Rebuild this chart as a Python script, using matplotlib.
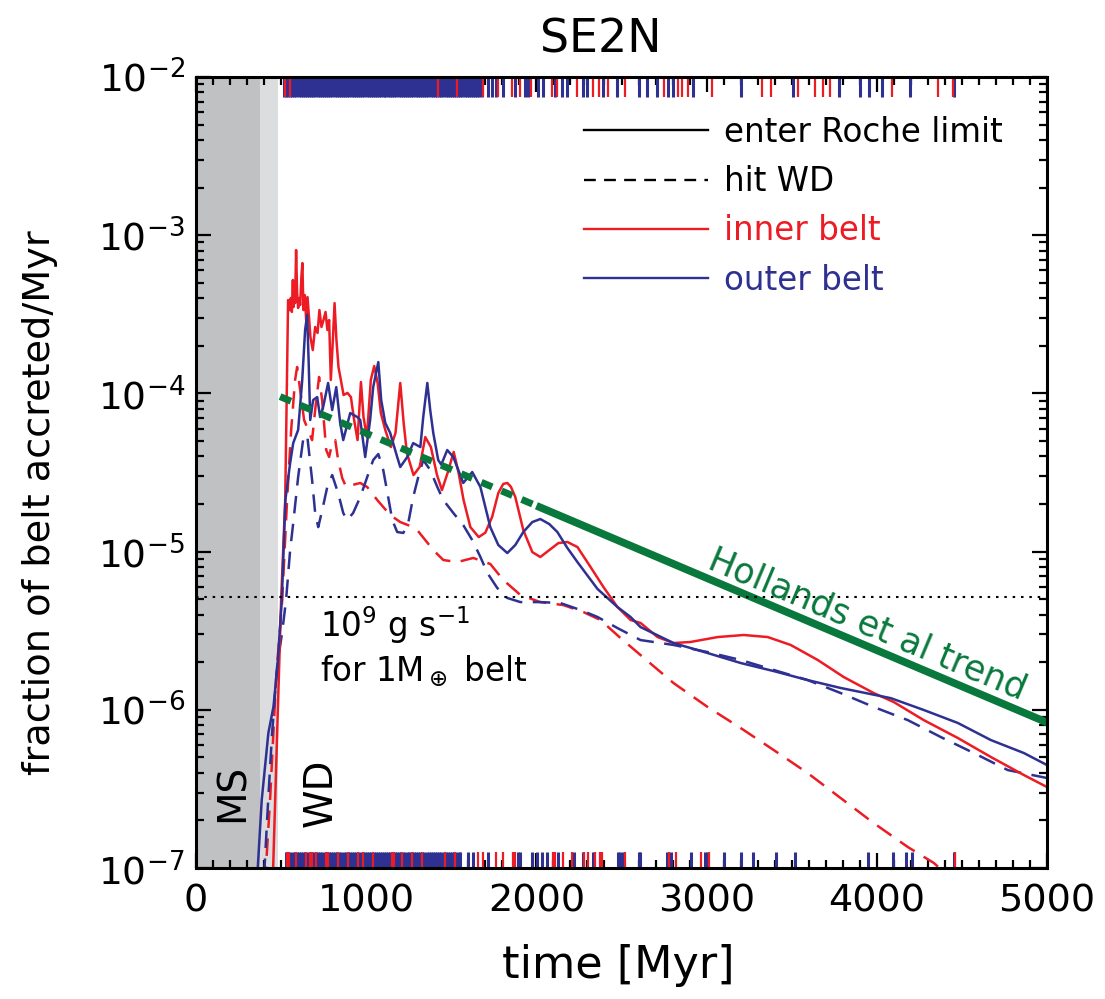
import matplotlib
matplotlib.use("Agg")
import matplotlib.pyplot as plt
from matplotlib.lines import Line2D
from matplotlib.ticker import MultipleLocator, LogLocator, FuncFormatter, NullFormatter
import numpy as np

plt.rcParams["font.family"] = ["DejaVu Sans"]
plt.rcParams["mathtext.fontset"] = "dejavusans"
plt.rcParams["mathtext.default"] = "regular"

RED = "#ed1c24"
BLUE = "#2e3192"
GREEN = "#08783c"

# stellar phases (Myr): MS up to first edge, then giant branch, then WD
phase_edges = [0, 376, 482]

# inner belt, enter Roche limit (time in Myr, log10 fraction/Myr)
inner_roche_t = [449, 500, 524, 541,
                 549, 557, 563, 569, 573, 576, 582, 588, 594, 600,
                 606, 612, 619, 625, 631, 639, 647, 655, 665, 672,
                 686, 700, 714, 725, 737, 749, 761, 772, 782, 792,
                 804, 814, 825, 837, 851, 867, 890, 910, 929, 949,
                 969, 984, 1004, 1027, 1047, 1067, 1086, 1112, 1145, 1172,
                 1200, 1220, 1239, 1278, 1314, 1347, 1380, 1416, 1445, 1478,
                 1514, 1543, 1572, 1612, 1661, 1700, 1740, 1776, 1805, 1829,
                 1850, 1876, 1923, 1976, 2023, 2076, 2129, 2182, 2241, 2318,
                 2394, 2476, 2553, 2612, 2712, 2806, 2906, 3065, 3218, 3359,
                 3494, 3653, 3806, 3982, 4100, 4276, 4476, 4670, 4864, 5000]
inner_roche_log10 = [-7.15, -5.306, -4.674, -3.410,
                     -3.473, -3.397, -3.485, -3.283, -3.454, -3.346, -3.429, -3.094, -3.365, -3.460,
                     -3.397, -3.441, -3.264, -3.176, -3.473, -3.378, -3.536, -3.391, -3.536, -3.643,
                     -3.726, -3.580, -3.618, -3.473, -3.580, -3.536, -3.485, -3.599, -3.536, -3.915,
                     -3.662, -3.429, -3.662, -3.833, -3.915, -4.010, -3.997, -4.023, -4.168, -4.295,
                     -3.928, -4.149, -4.276, -3.915, -3.827, -3.934, -4.124, -4.231, -4.339, -4.250,
                     -3.934, -4.187, -4.377, -4.516, -4.465, -4.276, -4.339, -4.516, -4.611, -4.503,
                     -4.370, -4.503, -4.674, -4.845, -4.908, -4.880, -4.780, -4.630, -4.572, -4.566,
                     -4.590, -4.655, -4.864, -5.003, -5.034, -4.990, -4.946, -4.939, -4.971, -5.097,
                     -5.224, -5.350, -5.432, -5.451, -5.540, -5.578, -5.571, -5.540, -5.527, -5.540,
                     -5.590, -5.685, -5.793, -5.894, -5.951, -6.065, -6.178, -6.298, -6.412, -6.488]

# inner belt, hit WD
inner_hit_t = [405, 435, 470, 506, 535, 559, 582, 594, 612, 635,
               659, 682, 700, 723, 741, 765, 782, 800, 818, 835,
               859, 882, 918, 965, 1006, 1065, 1141, 1200, 1259, 1300,
               1394, 1453, 1535, 1629, 1729, 1806, 1906, 2023, 2159, 2276,
               2376, 2494, 2612, 2806, 3006, 3200, 3394, 3594, 3788, 3982,
               4182, 4335, 4420]
inner_hit_log10 = [-7.10, -6.57, -5.81, -5.31, -4.674, -4.231, -3.915, -3.833, -3.979, -4.168,
                   -4.231, -4.295, -4.105, -3.896, -4.042, -4.358, -4.402, -4.314, -4.295, -4.421,
                   -4.535, -4.592, -4.579, -4.566, -4.592, -4.674, -4.769, -4.813, -4.838, -4.864,
                   -4.990, -5.053, -5.066, -5.040, -5.078, -5.180, -5.274, -5.319, -5.338, -5.382,
                   -5.432, -5.546, -5.654, -5.831, -5.982, -6.115, -6.254, -6.400, -6.558, -6.716,
                   -6.867, -6.968, -7.05]

# outer belt, enter Roche limit
outer_roche_t = [360, 386, 425, 455, 478, 504, 518, 525,
                 553, 571, 600, 624, 641, 653, 662, 671, 688, 712,
                 729, 747, 776, 800, 824, 847, 865, 906, 947, 965,
                 994, 1023, 1041, 1071, 1088, 1112, 1141, 1182, 1200, 1241,
                 1276, 1318, 1335, 1359, 1376, 1394, 1423, 1441, 1476, 1512,
                 1570, 1623, 1671, 1729, 1776, 1829, 1876, 1923, 1976, 2023,
                 2076, 2123, 2182, 2241, 2359, 2476, 2553, 2612, 2806, 3006,
                 3200, 3394, 3594, 3788, 4082, 4276, 4476, 4670, 4864, 5000]
outer_roche_log10 = [-7.05, -6.57, -6.147, -5.98, -5.73, -5.306, -4.88, -4.674,
                     -4.44, -4.314, -4.231, -3.915, -3.599, -3.504, -3.808, -4.168, -4.042, -4.023,
                     -4.149, -4.086, -3.934, -4.105, -3.960, -4.187, -4.295, -4.124, -4.149, -4.168,
                     -4.402, -4.168, -3.960, -3.802, -4.042, -4.187, -4.250, -4.402, -4.465, -4.402,
                     -4.314, -4.339, -4.149, -3.934, -4.105, -4.250, -4.421, -4.450, -4.358, -4.402,
                     -4.566, -4.497, -4.592, -4.845, -4.958, -5.009, -4.958, -4.876, -4.813, -4.794,
                     -4.826, -4.876, -4.977, -5.066, -5.236, -5.350, -5.413, -5.477, -5.578, -5.641,
                     -5.704, -5.755, -5.812, -5.862, -5.926, -6.001, -6.083, -6.191, -6.273, -6.349]

# outer belt, hit WD
outer_hit_t = [400, 424, 447, 476, 506, 529, 553, 571, 600, 629,
               653, 682, 700, 718, 741, 771, 800, 835, 865, 888,
               923, 965, 1006, 1041, 1071, 1100, 1129, 1153, 1182, 1218,
               1247, 1276, 1306, 1335, 1376, 1418, 1453, 1512, 1570, 1623,
               1671, 1712, 1770, 1829, 1906, 2023, 2141, 2259, 2359, 2476,
               2612, 2806, 3006, 3200, 3394, 3594, 3788, 3982, 4182, 4376,
               4570, 4770, 5000]
outer_hit_log10 = [-7.05, -6.57, -6.147, -5.73, -5.51, -5.306, -4.99, -4.82, -4.528, -4.295,
                   -4.263, -4.547, -4.756, -4.845, -4.740, -4.592, -4.516, -4.630, -4.756, -4.800,
                   -4.756, -4.655, -4.528, -4.421, -4.383, -4.484, -4.655, -4.800, -4.876, -4.882,
                   -4.819, -4.655, -4.528, -4.421, -4.484, -4.592, -4.674, -4.756, -4.832, -4.927,
                   -5.034, -5.135, -5.230, -5.293, -5.319, -5.319, -5.325, -5.369, -5.413, -5.483,
                   -5.559, -5.590, -5.635, -5.685, -5.748, -5.812, -5.894, -5.982, -6.065, -6.172,
                   -6.273, -6.381, -6.431]

# Hollands et al trend: dashed over the first part, solid after
trend_t = [494, 2000, 5000]
trend_log10 = [-4.02, -4.71, -6.08]

# 1e9 g/s for a 1 Earth-mass belt
reference_rate = 5.2e-6

# individual events (Myr): top rug = enter Roche limit, bottom rug = hit WD
top_outer_events = [515, 527, 540, 552, 566, 578, 589, 603, 615, 628, 640, 651, 664, 676, 690,
                    701, 714, 727, 738, 752, 764, 776, 790, 801, 815, 827, 838, 852, 864,
                    877, 889, 901, 915, 926, 940, 951, 964, 977, 988, 1002, 1014, 1026,
                    1040, 1051, 1064, 1077, 1089, 1102, 1113, 1127, 1139, 1151, 1165, 1176,
                    1190, 1202, 1214, 1227, 1240, 1252, 1265, 1277, 1290, 1302, 1315, 1327,
                    1340, 1352, 1365, 1378, 1390, 1402, 1415, 1428, 1440, 1452, 1466, 1478,
                    1490, 1503, 1515, 1528, 1540, 1553, 1565, 1578, 1590, 1603, 1615, 1628,
                    1640, 1653, 1665, 1678,
                    1718, 1741, 1765, 1806, 1876, 1935, 1953, 2012, 2041, 2112, 2153, 2182,
                    2276, 2300, 2394, 2476, 2600, 2647, 2706, 2776, 2800, 2918, 3200, 3506,
                    3776, 3900, 3953, 4029, 4194, 4455]
top_inner_events = [524, 553, 1423, 1535, 1688, 1776, 1859, 1906, 1970, 2094, 2123, 2241,
                    2335, 2365, 2418, 2518, 2747, 2829, 2853, 2888, 3029, 3323, 3376, 3535,
                    3635, 3682, 3723, 4088, 4359, 4447]
bottom_outer_events = [530, 542, 555, 567, 580, 593, 604, 617, 630, 642, 655, 668, 679, 692,
                       705, 717, 730, 742, 755, 768, 779, 792, 805, 817, 830, 843, 854, 867,
                       880, 892, 905, 917, 930, 942, 954, 967, 980, 992, 1005, 1017, 1030,
                       1043, 1055, 1067, 1080, 1092, 1105, 1118, 1129, 1142, 1155, 1167, 1180,
                       1192, 1205, 1217, 1230, 1243, 1254, 1267, 1280, 1292, 1305, 1317, 1330,
                       1342, 1355, 1368, 1379, 1392, 1405, 1417, 1430, 1442, 1455, 1467, 1480,
                       1492, 1505, 1517, 1530, 1543, 1553,
                       1600, 1629, 1718, 1894, 1906, 1976, 2006, 2035, 2065, 2129, 2218, 2271,
                       2335, 2482, 2494, 2506, 2600, 2606, 2770, 2788, 2906, 2988, 3000, 3100,
                       3200, 3270, 3406, 3518, 3947, 4094, 4170, 4206, 4453]
bottom_inner_events = [537, 545, 588, 647, 671, 682, 706, 765, 778, 837, 894, 949, 984, 1037,
                       1151, 1165, 1210, 1267, 1327, 1461, 1523,
                       1659, 1688, 1765, 1806, 1865, 1876, 2100, 2112, 2159, 2212, 2282, 2306,
                       2347, 2376, 2388, 2523, 2777, 2818, 2965, 3012, 4460]

legend_labels = ["enter Roche limit", "hit WD", "inner belt", "outer belt"]
legend_colors = ["black", "black", RED, BLUE]

fig = plt.figure(figsize=(11.05, 9.99), dpi=100)
ax = fig.add_axes([0.1774, 0.1311, 0.7701, 0.7918])

ax.axvspan(phase_edges[0], phase_edges[1], color="#c0c1c3", lw=0, zorder=0)
ax.axvspan(phase_edges[1], phase_edges[2], color="#dcdddf", lw=0, zorder=0)

dash = (7, 4.2)
ax.plot(inner_hit_t, 10 ** np.array(inner_hit_log10), color=RED, lw=1.8, dashes=dash)
ax.plot(outer_hit_t, 10 ** np.array(outer_hit_log10), color=BLUE, lw=1.8, dashes=dash)
ax.plot(inner_roche_t, 10 ** np.array(inner_roche_log10), color=RED, lw=1.8)
ax.plot(outer_roche_t, 10 ** np.array(outer_roche_log10), color=BLUE, lw=1.8)

trend_y = 10 ** np.array(trend_log10)
ax.plot(trend_t[:2], trend_y[:2], color=GREEN, lw=5, dashes=(1.7, 1.45))
ax.plot(trend_t[1:], trend_y[1:], color=GREEN, lw=5.5, solid_capstyle="butt")

ax.axhline(reference_rate, color="black", lw=1.5, dashes=(1.2, 2.8))

# event rugs
xt = ax.get_xaxis_transform()
ax.vlines(top_outer_events, 0.975, 1.0, transform=xt, color=BLUE, lw=2.2)
ax.vlines(top_inner_events, 0.975, 1.0, transform=xt, color=RED, lw=1.6)
ax.vlines(bottom_outer_events, 0.0, 0.02, transform=xt, color=BLUE, lw=2.2)
ax.vlines(bottom_inner_events, 0.0, 0.02, transform=xt, color=RED, lw=1.6)

ax.set_xlim(0, 5000)
ax.set_yscale("log")
ax.set_ylim(1e-7, 1e-2)

ax.xaxis.set_major_locator(MultipleLocator(1000))
ax.xaxis.set_minor_locator(MultipleLocator(100))
ax.yaxis.set_major_locator(LogLocator(base=10))
ax.yaxis.set_minor_locator(LogLocator(base=10, subs=np.arange(2, 10)))
ax.yaxis.set_minor_formatter(NullFormatter())
ax.yaxis.set_major_formatter(FuncFormatter(lambda v, p: r"10$^{%d}$" % round(np.log10(v))))

ax.tick_params(which="both", direction="in", top=True, right=True, width=1.6)
ax.tick_params(axis="x", labelsize=27.5, pad=11)
ax.tick_params(axis="y", labelsize=27, pad=8)
ax.tick_params(which="major", length=11)
ax.tick_params(which="minor", length=5.5)
for s in ax.spines.values():
    s.set_linewidth(2.2)

ax.text(0.146, 0.307, r"10$^9$ g s$^{-1}$", transform=ax.transAxes, fontsize=23.5, va="center")
ax.text(0.146, 0.248, r"for 1M$_\oplus$ belt", transform=ax.transAxes, fontsize=23.5, va="center")
ax.text(0.0435, 0.095, "MS", transform=ax.transAxes, fontsize=28, rotation=90, ha="center", va="center")
ax.text(0.146, 0.095, "WD", transform=ax.transAxes, fontsize=28, rotation=90, ha="center", va="center")
ax.text(0.789, 0.308, "Hollands et al trend", transform=ax.transAxes, fontsize=25, color=GREEN,
        rotation=-22.8, rotation_mode="anchor", ha="center", va="center")

handles = [Line2D([], [], color="black", lw=1.7),
           Line2D([], [], color="black", lw=1.7, dashes=(5, 3.5)),
           Line2D([], [], color=RED, lw=1.7),
           Line2D([], [], color=BLUE, lw=1.7)]
leg = ax.legend(handles, legend_labels, loc="upper right", bbox_to_anchor=(0.948, 0.951),
                frameon=False, fontsize=23.5, handlelength=3.8, handletextpad=0.5,
                labelspacing=0.50, borderpad=0, borderaxespad=0)
for text, c in zip(leg.get_texts(), legend_colors):
    text.set_color(c)

fig.text(0.544, 0.960, "SE2N", ha="center", va="center", fontsize=33)
fig.text(0.560, 0.034, "time [Myr]", ha="center", va="center", fontsize=32)
fig.text(0.036, 0.497, "fraction of belt accreted/Myr", ha="center", va="center",
         rotation=90, fontsize=27.5)

fig.savefig("out.png", dpi=100)
